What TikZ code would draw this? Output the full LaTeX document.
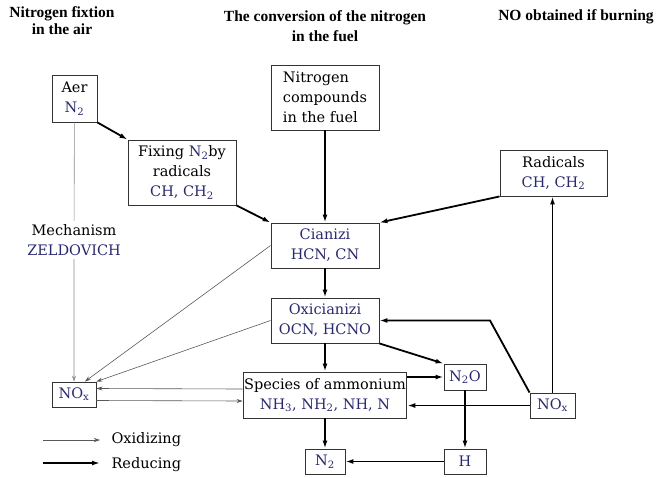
\documentclass[tikz,border=0pt]{standalone}
\usepackage{fontspec}
\setmainfont{DejaVu Serif}
\newfontfamily\titlefont{Liberation Serif}
\usetikzlibrary{arrows.meta}
\definecolor{chemblue}{RGB}{40,40,120}
\newcommand{\chem}[1]{\textcolor{chemblue}{#1}}

\begin{document}
\begin{tikzpicture}[x=1pt, y=-1pt,
    box/.style={draw=black!80, line width=0.9pt, align=center, inner sep=1pt, font=\fontsize{14.5}{20}\selectfont},
    title/.style={align=center, font=\titlefont\bfseries\fontsize{15.5}{17}\selectfont},
    plain/.style={font=\fontsize{14.5}{20}\selectfont},
    oxid/.style={draw=black!65, line width=0.6pt, -{Stealth[length=6pt,width=4pt]}},
    reduce/.style={line width=1.8pt, -{Latex[length=8pt,width=5pt]}}]
    \useasboundingbox (0,0) rectangle (661,477);
    \node [title] (airtitle) at (62,21) {Nitrogen fixtion\\in the air};
    \node [title] (fueltitle) at (325,26) {The conversion of the nitrogen\\[3pt]in the fuel};
    \node [title] (burntitle) at (576,17) {NO obtained if burning};

    \node [box, minimum width=45pt, minimum height=47pt] (aer) at (74.5,98.5) {Aer\\\chem{N\textsubscript{2}}};
    \node [box, minimum width=108pt, minimum height=65pt] (fixing) at (182,172.5) {Fixing \chem{N\textsubscript{2}}by\\radicals\\\chem{CH, CH\textsubscript{2}}};
    \node [box, align=left, minimum width=108pt, minimum height=65pt] (fuel) at (325,97.5) {Nitrogen\\compounds\\in the fuel};
    \node [box, minimum width=107pt, minimum height=46pt] (radicals) at (553.5,173) {Radicals\\\chem{CH, CH\textsubscript{2}}};
    \node [box, minimum width=108pt, minimum height=45pt] (cianizi) at (325,245.5) {\chem{Cianizi}\\\chem{HCN, CN}};
    \node [box, minimum width=108pt, minimum height=45pt] (oxi) at (325,320.5) {\chem{Oxicianizi}\\\chem{OCN, HCNO}};
    \node [box, minimum width=153pt, minimum height=46pt] (species) at (325,395) {Species of ammonium\\\chem{NH\textsubscript{3}, NH\textsubscript{2}, NH, N}};
    \node [box, minimum width=42pt, minimum height=26pt] (ntwoo) at (465,377) {\chem{N\textsubscript{2}O}};
    \node [box, minimum width=45pt, minimum height=25pt] (noxr) at (552.5,405.5) {\chem{NO\textsubscript{x}}};
    \node [box, minimum width=44pt, minimum height=25pt] (noxl) at (74,394.5) {\chem{NO\textsubscript{x}}};
    \node [box, minimum width=40pt, minimum height=25pt] (ntwo) at (325,461.5) {\chem{N\textsubscript{2}}};
    \node [box, minimum width=42pt, minimum height=25pt] (hyd) at (465,461.5) {\chem{H}};
    \node [plain, align=center] (mech) at (74,240) {Mechanism\\\chem{ZELDOVICH}};

    \draw [reduce] (aer.south east) -- (fixing.north west);
    \draw [reduce] (fixing.south east) -- (cianizi.north west);
    \draw [reduce] (fuel) -- (cianizi);
    \draw [reduce] (radicals.south west) -- (cianizi.north east);
    \draw [reduce] (cianizi) -- (oxi);
    \draw [reduce] (oxi) -- (species);
    \draw [reduce] (species) -- (ntwo);
    \draw [reduce] (oxi.south east) -- (ntwoo.north west);
    \draw [reduce] (species.east |- ntwoo.west) -- (ntwoo.west);
    \draw [reduce] (noxr.west) -- (noxr.west -| species.east);
    \coordinate (bend) at (490,320.5);
    \draw [reduce] (noxr.north west) -- (bend) -- (oxi.east);
    \draw [reduce] (noxr.north) -- (noxr.north |- radicals.south);
    \draw [reduce] (ntwoo) -- (hyd);
    \draw [reduce] (hyd) -- (ntwo);

    \draw [oxid, draw=black!45] (aer) -- (mech) -- (noxl);
    \draw [oxid] (cianizi.west) -- (noxl.50);
    \draw [oxid] (oxi.west) -- (noxl.north east);
    \draw [oxid] ([yshift=6pt]species.west) -- ([yshift=6pt]noxl.east);
    \draw [oxid] ([yshift=-6pt]noxl.east) -- ([yshift=-6pt]species.west);

    \coordinate (oxa) at (43,440);
    \coordinate (oxb) at (100,440);
    \coordinate (rda) at (43,463);
    \coordinate (rdb) at (100,463);
    \draw [oxid] (oxa) -- (oxb);
    \draw [reduce] (rda) -- (rdb);
    \node [plain, anchor=west] (oxlabel) at (108,440) {Oxidizing};
    \node [plain, anchor=west] (rdlabel) at (108,465) {Reducing};
\end{tikzpicture}
\end{document}
